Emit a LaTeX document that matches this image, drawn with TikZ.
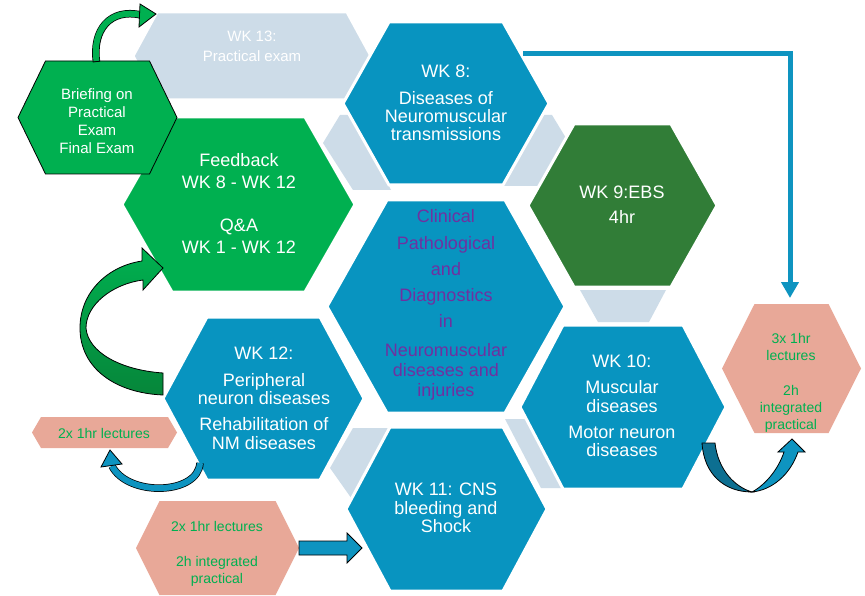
\documentclass[tikz,border=0pt]{standalone}
\usepackage{fontspec}
\setmainfont{Liberation Sans}
\usetikzlibrary{arrows.meta}
\definecolor{hexblue}{RGB}{8,148,192}
\definecolor{lightgap}{RGB}{205,220,232}
\definecolor{brightgreen}{RGB}{0,176,80}
\definecolor{greendark}{RGB}{6,134,58}
\definecolor{darkgreen}{RGB}{49,125,55}
\definecolor{salmon}{RGB}{232,168,152}
\definecolor{purpletext}{RGB}{112,48,160}
\definecolor{arrowblue}{RGB}{14,148,192}
\definecolor{arrowdark}{RGB}{13,111,145}
% hexagon: cx cy halfwidth halftop halfheight style
\newcommand\hexa[6]{\path[#6] (#1,#2) ++(-#3,0) -- ++({#3-#4},-#5) -- ++({2*#4},0) -- ++({#3-#4},#5) -- ++({#4-#3},#5) -- ++({-2*#4},0) -- cycle;}
\tikzset{
  hexfill/.style={fill=#1, draw=white, line width=3pt},
  gapshape/.style={fill=lightgap},
  wtext/.style={align=center, text=white, inner sep=0pt},
  pinktext/.style={align=center, text=brightgreen, inner sep=0pt, font=\fontsize{14}{17}\selectfont},
  outl/.style={draw=black, line width=0.8pt},
}
\begin{document}
\begin{tikzpicture}[x=1pt,y=-1pt]
\useasboundingbox (0,0) rectangle (865,596);
\fill[white] (0,0) rectangle (865,596);
% gap shapes
\fill[gapshape] (340,115) -- (351,115) -- (391,190) -- (353,190) -- (323,143) -- cycle;
\fill[gapshape] (552,115) -- (541,115) -- (503,186) -- (541,186) -- (569,143) -- cycle;
\fill[gapshape] (580,290) -- (666,290) -- (649,322) -- (598,322) -- cycle;
\fill[gapshape] (353,428) -- (395,428) -- (354,502) -- (330,468) -- cycle;
\fill[gapshape] (505,419) -- (532,419) -- (572,488) -- (541,488) -- cycle;
% hexagons
\hexa{252}{56}{119}{95}{44}{hexfill=lightgap}
\hexa{446}{103.5}{103}{57}{81.5}{hexfill=hexblue}
\hexa{238.5}{204.5}{116.5}{66.5}{87.5}{hexfill=brightgreen}
\hexa{97.5}{117.5}{79.5}{52}{56.5}{fill=brightgreen, outl}
\hexa{622.5}{205.5}{94.5}{48.5}{81.5}{hexfill=darkgreen}
\hexa{446}{306.5}{119}{59}{106.5}{hexfill=hexblue}
\hexa{263.5}{398.5}{100.5}{56.5}{81.5}{hexfill=hexblue}
\hexa{623}{407}{103}{60}{82}{hexfill=hexblue}
\hexa{446.5}{509}{100.5}{56.5}{82}{hexfill=hexblue}
\hexa{104.5}{432.5}{72.5}{63.5}{15.5}{fill=salmon}
\hexa{217.5}{548}{81.5}{58}{47}{fill=salmon}
\hexa{791.5}{368.5}{69.5}{37}{64.5}{fill=salmon}
% texts
\node[wtext, font=\fontsize{15}{20}\selectfont] (wk13) at (252,46) {WK 13:\\Practical exam};
\node[wtext, font=\fontsize{18}{18}\selectfont] (wk8) at (446,103) {WK 8:\\[9pt]Diseases of\\Neuromuscular\\transmissions};
\node[wtext, font=\fontsize{18}{22}\selectfont] (feedback) at (239,203) {Feedback\\WK 8 - WK 12\\[21pt]Q\&A\\WK 1 - WK 12};
\node[wtext, font=\fontsize{15}{18}\selectfont] (briefing) at (97,121) {Briefing on\\Practical\\Exam\\Final Exam};
\node[wtext, font=\fontsize{18}{25}\selectfont] (wk9) at (622,205) {WK 9:EBS\\4hr};
\node[align=center, inner sep=0pt, text=purpletext, font=\fontsize{18}{20}\selectfont] (center) at (446,305) {Clinical\\[7pt]Pathological\\[6pt]and\\[6pt]Diagnostics\\[6pt]in\\[9pt]Neuromuscular\\diseases and\\injuries};
\node[wtext, font=\fontsize{18}{18.5}\selectfont] (wk12) at (264,398) {WK 12:\\[8.5pt]Peripheral\\neuron diseases\\[7.5pt]Rehabilitation of\\NM diseases};
\node[wtext, font=\fontsize{18}{18.5}\selectfont] (wk10) at (622,406) {WK 10:\\[7.5pt]Muscular\\diseases\\[7.5pt]Motor neuron\\diseases};
\node[wtext, font=\fontsize{18}{18.5}\selectfont] (wk11) at (446,508) {WK 11: CNS\\bleeding and\\Shock};
\node[pinktext] (p1) at (104,433) {2x 1hr lectures};
\node[pinktext] (p2) at (217,554) {2x 1hr lectures\\[18pt]2h integrated\\practical};
\node[pinktext] (p3) at (791,383) {3x 1hr\\lectures\\[18pt]2h\\integrated\\practical};
% elbow arrow WK8 -> right pink box
\coordinate (e1) at (523,54);
\coordinate (e2) at (790,298);
\draw[arrowblue, line width=5pt, -{Triangle[length=16pt,width=17pt]}] (e1) -| (e2);
% straight block arrow pink -> WK11
\path[fill=arrowblue, outl] (299,541) -- (347,541) -- (347,533) -- (362,548) -- (347,563) -- (347,555) -- (299,555) -- cycle;
% big green curved arrow WK12 -> Feedback
\path[outl, top color=brightgreen, bottom color=greendark] (163,395) .. controls (115,393) and (80,368) .. (80,328) .. controls (80,292) and (108,266) .. (142,261) -- (142,248) -- (163,268) -- (143,290) -- (143,280) .. controls (112,284) and (86,305) .. (86,328) .. controls (88,352) and (120,370) .. (163,373) -- cycle;
% small green arrow Briefing -> WK13
\draw[black, line width=7.5pt] (96.5,62) .. controls (92,30) and (110,8) .. (141,15);
\draw[brightgreen, line width=6pt] (96.5,61) .. controls (92,30) and (110,8) .. (141,15);
\path[fill=brightgreen, outl] (140,4) -- (156,14) -- (139,27) -- cycle;
% small blue curved arrow WK12 -> pink 1
\draw[black, line width=7.5pt] (200,463) .. controls (198,495) and (128,497) .. (112,466);
\draw[arrowblue, line width=6pt] (200,463) .. controls (198,495) and (128,497) .. (112,466);
\path[fill=arrowblue, outl] (101,467) -- (110,450) -- (122,464) -- cycle;
% curved blue arrow WK10 -> pink 3
\path[fill=arrowdark, outl] (702,443) -- (715,443) .. controls (718,470) and (735,487) .. (752,492) .. controls (725,492) and (704,475) .. (702,443) -- cycle;
\path[fill=arrowblue, outl] (752,492) .. controls (772,490) and (790,475) .. (798,452) -- (805,452) -- (792,439) -- (778,452) -- (784,452) .. controls (778,470) and (765,485) .. (752,492) -- cycle;
\end{tikzpicture}
\end{document}
